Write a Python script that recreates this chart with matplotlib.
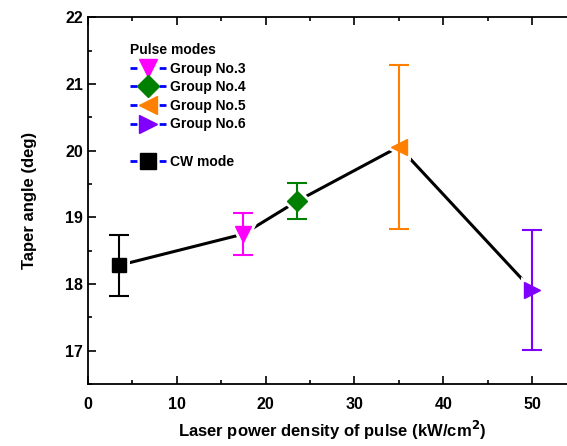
import matplotlib
matplotlib.use('Agg')
import matplotlib.pyplot as plt
from matplotlib.lines import Line2D

plt.rcParams['font.family'] = ['Liberation Sans', 'DejaVu Sans']
plt.rcParams['font.weight'] = 'bold'

# data
labels = ['CW mode', 'Group No.3', 'Group No.4', 'Group No.5', 'Group No.6']
power = [3.5, 17.5, 23.5, 35.0, 50.0]
taper = [18.28, 18.75, 19.24, 20.06, 17.91]
err = [0.46, 0.31, 0.27, 1.23, 0.9]
markers = ['s', 'v', 'D', '<', '>']
colors = ['black', '#ff00ff', '#008000', '#ff8000', '#8000ff']
msizes = [10, 12, 10, 12, 12]

fig = plt.figure(figsize=(5.67, 4.46), dpi=100)
ax = fig.add_axes([0.155, 0.139, 0.862, 0.822])

ax.plot(power, taper, color='black', lw=2.2, zorder=1)

for x, y, e, m, c, s in zip(power, taper, err, markers, colors, msizes):
    # white halo gives the small gap between line and marker
    ax.plot(x, y, marker=m, ms=s, mfc='white', mec='white', mew=5, zorder=2)
    ax.errorbar(x, y, yerr=e, fmt='none', ecolor=c, elinewidth=1.5,
                capsize=7, capthick=1.5, zorder=3)
    ax.plot(x, y, marker=m, ms=s, color=c, mec=c, zorder=4)

ax.set_xlim(0, 55)
ax.set_ylim(16.5, 22)
ax.set_xticks([0, 10, 20, 30, 40, 50])
ax.set_xticks([5, 15, 25, 35, 45], minor=True)
ax.set_yticks([17, 18, 19, 20, 21, 22])
ax.set_yticks([16.5, 17.5, 18.5, 19.5, 20.5, 21.5], minor=True)
ax.tick_params(which='both', direction='in', top=True, right=False, width=1.2,
               labelsize=11.5)
ax.tick_params(which='major', length=6)
ax.tick_params(which='minor', length=3)
ax.tick_params(axis='x', pad=9)
for side in ['left', 'bottom', 'top']:
    ax.spines[side].set_linewidth(1.3)
ax.spines['right'].set_visible(False)

ax.set_xlabel('Laser power density of pulse (kW/cm$^{\\mathbf{2}}$)', fontsize=12,
              fontweight='bold', labelpad=5)
ax.set_ylabel('Taper angle (deg)', fontsize=12, fontweight='bold', labelpad=20)

order = [1, 2, 3, 4, None, 0]
handles = []
names = []
for i in order:
    if i is None:
        handles.append(Line2D([], [], color='none'))
        names.append('')
        continue
    handles.append(Line2D([], [], color='blue', ls='--', lw=2, dashes=(2.5, 8.0),
                          marker=markers[i], ms=msizes[i] + 1, mfc=colors[i], mec=colors[i]))
    names.append(labels[i])
leg = ax.legend(handles, names, loc='upper left', bbox_to_anchor=(0.074, 0.945),
                frameon=False, fontsize=10, title='Pulse modes',
                title_fontproperties={'weight': 'bold', 'size': 10},
                handlelength=2.6, handletextpad=0.3, labelspacing=0.33,
                borderaxespad=0)
leg._legend_box.align = 'left'

fig.savefig('out.png', dpi=100)
